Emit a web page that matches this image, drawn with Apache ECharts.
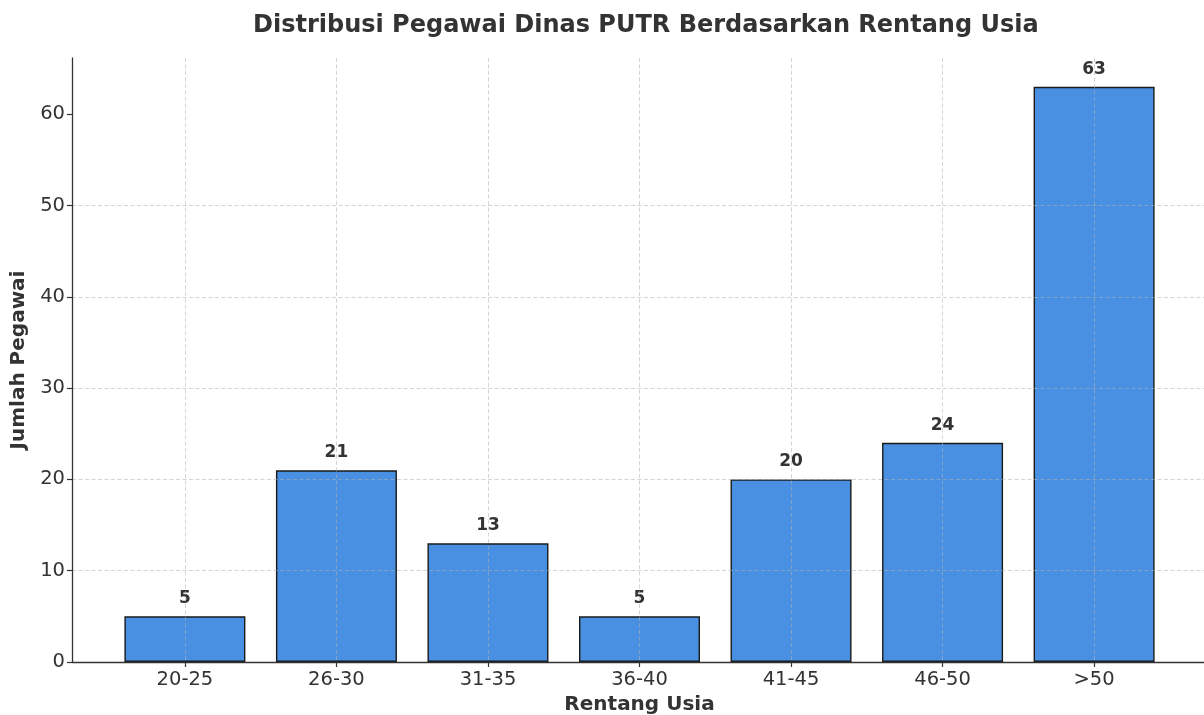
<!DOCTYPE html>
<html>
<head>
<meta charset="utf-8">
<script src="https://cdn.jsdelivr.net/npm/echarts@6/dist/echarts.min.js"></script>
<style>
  html, body { margin: 0; padding: 0; background: #fff; }
  #chart { width: 1204px; height: 715px; }
</style>
</head>
<body>
<div id="chart"></div>
<script>
const categories = ['20-25', '26-30', '31-35', '36-40', '41-45', '46-50', '>50'];
const jumlahPegawai = [5, 21, 13, 5, 20, 24, 63];
const yTicks = [0, 10, 20, 30, 40, 50, 60];

const font = 'DejaVu Sans';
const textColor = '#333333';

let myChart = echarts.init(document.getElementById('chart'));
let option = {
  animation: false,
  title: {
    text: 'Distribusi Pegawai Dinas PUTR Berdasarkan Rentang Usia',
    left: 248,
    top: 9,
    textStyle: {
      fontFamily: font,
      fontSize: 24,
      fontWeight: 'bold',
      color: textColor
    }
  },
  grid: {
    left: 72,
    top: 58,
    width: 1135,
    height: 604,
    containLabel: false,
    outerBoundsMode: 'none'
  },
  xAxis: {
    type: 'value',
    min: -0.745,
    max: categories.length - 1 + 0.745,
    splitNumber: 7,
    z: 3,
    name: 'Rentang Usia',
    nameLocation: 'middle',
    nameGap: 33,
    nameTextStyle: {
      fontFamily: font,
      fontSize: 20,
      fontWeight: 'bold',
      color: textColor
    },
    axisLine: { onZero: false, lineStyle: { color: '#333', width: 1.3 } },
    axisTick: { show: true, length: 5, lineStyle: { color: '#333', width: 1.2 }, customValues: categories.map((c, i) => i) },
    axisLabel: {
      customValues: categories.map((c, i) => i),
      formatter(v) {
        return Number.isInteger(v) ? categories[v] : '';
      },
      fontFamily: font,
      fontSize: 19.5,
      color: textColor,
      margin: 8
    },
    splitLine: {
      show: true,
      lineStyle: { color: 'rgba(176,176,176,0.55)', type: [4, 2.5], width: 1 }
    }
  },
  yAxis: {
    type: 'value',
    min: 0,
    max: 66.15,
    splitNumber: 6,
    z: 3,
    name: 'Jumlah Pegawai',
    nameLocation: 'middle',
    nameGap: 43,
    nameTextStyle: {
      fontFamily: font,
      fontSize: 20,
      fontWeight: 'bold',
      color: textColor
    },
    axisLine: { show: true, onZero: false, lineStyle: { color: '#333', width: 1.3 } },
    axisTick: { show: true, length: 5, lineStyle: { color: '#333', width: 1.2 }, customValues: yTicks },
    axisLabel: {
      customValues: yTicks,
      fontFamily: font,
      fontSize: 19.5,
      color: textColor,
      margin: 7
    },
    splitLine: {
      show: true,
      showMaxLine: false,
      lineStyle: { color: 'rgba(176,176,176,0.55)', type: [4, 2.5], width: 1 }
    }
  },
  series: [
    {
      type: 'bar',
      data: jumlahPegawai.map((v, i) => [i, v]),
      barWidth: 121,
      itemStyle: {
        color: '#4A90E2',
        borderColor: '#1a1a1a',
        borderWidth: 1.4
      },
      label: {
        show: true,
        position: 'top',
        distance: 9,
        formatter: (p) => p.value[1],
        fontFamily: font,
        fontSize: 17,
        fontWeight: 'bold',
        color: textColor
      }
    }
  ]
};
myChart.setOption(option);
</script>
</body>
</html>
